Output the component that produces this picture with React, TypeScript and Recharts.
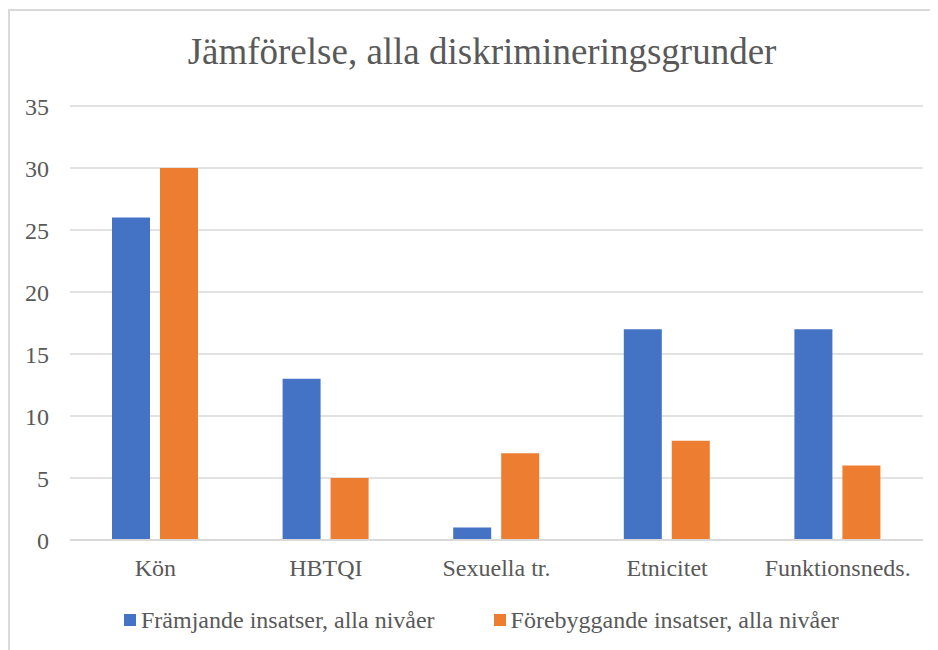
import { Bar, BarChart, CartesianGrid, XAxis, YAxis } from "recharts";

const categories = ["Kön", "HBTQI", "Sexuella tr.", "Etnicitet", "Funktionsneds."];
const framjande = [26, 13, 1, 17, 17];
const forebyggande = [30, 5, 7, 8, 6];
const yTicks = [0, 5, 10, 15, 20, 25, 30, 35];

const series = [
  { key: "framjande", name: "Främjande insatser, alla nivåer", color: "#4472c4" },
  { key: "forebyggande", name: "Förebyggande insatser, alla nivåer", color: "#ed7d31" },
];

const data = categories.map((name, i) => ({
  name,
  framjande: framjande[i],
  forebyggande: forebyggande[i],
}));

const font = "'Liberation Serif', 'Times New Roman', serif";
const textColor = "#595959";

export default function App() {
  return (
    <div style={{ position: "relative", width: 930, height: 642, fontFamily: font }}>
      <style>{"body{overflow:hidden}"}</style>
      <div
        style={{
          position: "absolute",
          left: 0,
          top: 1,
          width: 960,
          height: 680,
          border: "2px solid #d9d9d9",
          boxSizing: "border-box",
        }}
      />
      <div
        style={{
          position: "absolute",
          left: 0,
          top: 25,
          width: 948,
          textAlign: "center",
          fontSize: 37,
          lineHeight: "37px",
          color: textColor,
          whiteSpace: "nowrap",
        }}
      >
        Jämförelse, alla diskrimineringsgrunder
      </div>
      <div style={{ position: "absolute", left: 0, top: 0 }}>
        <BarChart
          width={925}
          height={600}
          data={data}
          margin={{ top: 98, right: 10, left: 2, bottom: 0 }}
          barSize={38}
          barGap={10}
        >
          <CartesianGrid vertical={false} stroke="#d9d9d9" strokeWidth={1.5} />
          <XAxis
            dataKey="name"
            height={68}
            tickLine={false}
            axisLine={{ stroke: "#d9d9d9", strokeWidth: 2 }}
            tickMargin={13}
            tick={{ fill: textColor, fontSize: 24, fontFamily: font }}
            interval={0}
          />
          <YAxis
            width={60}
            domain={[0, 35]}
            ticks={yTicks}
            tickLine={false}
            axisLine={false}
            tickMargin={15}
            tick={{ fill: textColor, fontSize: 24, fontFamily: font }}
          />
          {series.map((s) => (
            <Bar key={s.key} dataKey={s.key} name={s.name} fill={s.color} isAnimationActive={false} />
          ))}
        </BarChart>
      </div>
      <div
        style={{
          position: "absolute",
          left: 116,
          top: 600,
          display: "flex",
          alignItems: "center",
          gap: 59,
          fontSize: 24,
          lineHeight: "24px",
          color: textColor,
          whiteSpace: "nowrap",
        }}
      >
        {series.map((s) => (
          <div key={s.key} style={{ display: "flex", alignItems: "center", gap: 5 }}>
            <span style={{ display: "inline-block", width: 12, height: 12, background: s.color }} />
            <span>{s.name}</span>
          </div>
        ))}
      </div>
    </div>
  );
}
